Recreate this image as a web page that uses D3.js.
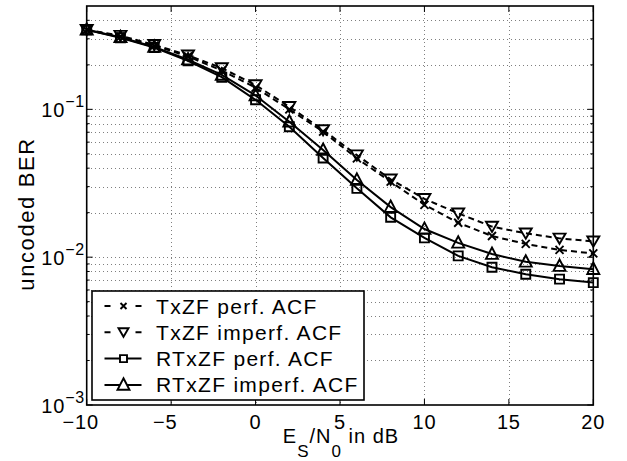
<!DOCTYPE html>
<html><head><meta charset="utf-8">
<style>
body {margin:0; background:#fff;}
text {font-family:'Liberation Sans',Arial,sans-serif; fill:#000;}
.grid line {stroke:#000; stroke-opacity:0.5; stroke-width:1; stroke-dasharray:1,3; shape-rendering:crispEdges;}
</style>
<script src='https://d3js.org/d3.v7.min.js'></script>
</head><body>
<svg id='svg001' width='627' height='461'></svg>
<script>
// data
var snr=[-10,-8,-6,-4,-2,0,2,4,6,8,10,12,14,16,18,20];
var txzfPerf=[0.345,0.31,0.27,0.228,0.183,0.14,0.1,0.0706,0.0466,0.0324,0.0226,0.0171,0.0139,0.0123,0.0112,0.0106];
var txzfImperf=[0.345,0.315,0.273,0.232,0.19,0.146,0.104,0.0725,0.049,0.0336,0.0248,0.0198,0.0161,0.0145,0.0134,0.0128];
var rtxzfPerf=[0.345,0.305,0.262,0.213,0.165,0.116,0.0763,0.0469,0.0292,0.0186,0.0135,0.0102,0.00855,0.00767,0.0071,0.00673];
var rtxzfImperf=[0.345,0.307,0.264,0.217,0.171,0.124,0.0825,0.053,0.0333,0.0218,0.0155,0.0125,0.0105,0.0093,0.0087,0.0083];
var xTicks=[-10,-5,0,5,10,15,20];
var yMajor=[1e-3,1e-2,1e-1];
var yExp=['\u22123','\u22122','\u22121'];
var legendNames=['TxZF perf. ACF','TxZF imperf. ACF','RTxZF perf. ACF','RTxZF imperf. ACF'];

var L=86.7,R=593.3,T=6,B=405;
var xScale=d3.scaleLinear().domain([-10,20]).range([L,R]);
var yScale=d3.scaleLog().domain([1e-3,0.5]).range([B,T]);
var svg=d3.select('#svg001');

// minor log ticks
var yMinor=[];
[1e-3,1e-2,1e-1].forEach(function(d){for(var k=2;k<=9;k++){if(k*d<0.5) yMinor.push(k*d);}});

// grid
var g=svg.append('g').attr('class','grid');
g.selectAll('.gx').data(xTicks.slice(1,-1)).enter().append('line')
 .attr('x1',d=>Math.round(xScale(d))+0.5).attr('x2',d=>Math.round(xScale(d))+0.5).attr('y1',T).attr('y2',B);
g.selectAll('.gy').data(yMinor.concat(yMajor.slice(1))).enter().append('line')
 .attr('y1',d=>Math.round(yScale(d))+0.5).attr('y2',d=>Math.round(yScale(d))+0.5).attr('x1',L).attr('x2',R);

// box and ticks
svg.append('rect').attr('x',L).attr('y',T).attr('width',R-L).attr('height',B-T)
   .attr('fill','none').attr('stroke','#000').attr('stroke-width',1.6);
var tk=svg.append('g').attr('stroke','#000').attr('stroke-width',1);
xTicks.forEach(function(d){
  tk.append('line').attr('x1',xScale(d)).attr('x2',xScale(d)).attr('y1',B).attr('y2',B-6);
  tk.append('line').attr('x1',xScale(d)).attr('x2',xScale(d)).attr('y1',T).attr('y2',T+6);
});
yMajor.forEach(function(d){
  tk.append('line').attr('y1',yScale(d)).attr('y2',yScale(d)).attr('x1',L).attr('x2',L+6);
  tk.append('line').attr('y1',yScale(d)).attr('y2',yScale(d)).attr('x1',R).attr('x2',R-6);
});
yMinor.forEach(function(d){
  tk.append('line').attr('y1',yScale(d)).attr('y2',yScale(d)).attr('x1',L).attr('x2',L+3);
  tk.append('line').attr('y1',yScale(d)).attr('y2',yScale(d)).attr('x1',R).attr('x2',R-3);
});

// tick labels
svg.append('g').selectAll('text').data(xTicks).enter().append('text')
   .attr('x',d=>xScale(d)).attr('dx',d=>d<0?-6:0).attr('y',429).attr('text-anchor','middle')
   .style('font-size','20px').style('letter-spacing','0.8px')
   .text(d=>d<0?'\u2212'+(-d):d);
yMajor.forEach(function(d,i){
  var t=svg.append('text').attr('x',85).attr('y',yScale(d)+7.7).attr('text-anchor','end')
     .style('font-size','20px').style('letter-spacing','0.8px');
  t.append('tspan').text('10');
  t.append('tspan').attr('dy',-10).style('font-size','16px').text(yExp[i]);
});

// axis labels
var xl=svg.append('text').attr('x',341).attr('y',443).attr('text-anchor','middle')
   .style('font-size','20px').style('letter-spacing','1px');
xl.append('tspan').text('E');
xl.append('tspan').attr('dy',13.5).style('font-size','17px').text('S');
xl.append('tspan').attr('dy',-13.5).text('/N');
xl.append('tspan').attr('dy',13.5).style('font-size','17px').text('0');
xl.append('tspan').attr('dy',-13.5).text(' in dB');
svg.append('text').attr('transform','translate(33.5,214) rotate(-90)').attr('text-anchor','middle')
   .style('font-size','22px').style('letter-spacing','1.6px').text('uncoded BER');

// markers
function marker(type,s){
  var h=s/2;
  if(type=='x') return 'M'+(-h)+','+(-h)+'L'+h+','+h+'M'+(-h)+','+h+'L'+h+','+(-h);
  if(type=='sq') return 'M'+(-h)+','+(-h)+'H'+h+'V'+h+'H'+(-h)+'Z';
  if(type=='up') return 'M0,'+(-h*1.1)+'L'+h+','+(h*0.8)+'L'+(-h)+','+(h*0.8)+'Z';
  return 'M0,'+(h*0.9)+'L'+h+','+(-h*0.8)+'L'+(-h)+','+(-h*0.8)+'Z';
}
var series=[
  {v:txzfPerf,dash:'6,4',m:'x',s:8,ls:6},
  {v:txzfImperf,dash:'6,4',m:'dn',s:12,ls:10},
  {v:rtxzfPerf,dash:null,m:'sq',s:9,ls:7},
  {v:rtxzfImperf,dash:null,m:'up',s:12,ls:12}
];
var line=d3.line().x((d,i)=>xScale(snr[i])).y(d=>yScale(d));
series.forEach(function(s){
  svg.append('path').datum(s.v).attr('d',line).attr('fill','none').attr('stroke','#000')
     .attr('stroke-width',2).attr('stroke-dasharray',s.dash);
  svg.append('g').selectAll('path').data(s.v).enter().append('path')
     .attr('transform',(d,i)=>'translate('+xScale(snr[i])+','+yScale(d)+')')
     .attr('d',marker(s.m,s.s)).attr('fill','none').attr('stroke','#000').attr('stroke-width',1.9);
});

// legend
var lg=svg.append('g');
lg.append('rect').attr('x',92).attr('y',291).attr('width',272).attr('height',109)
  .attr('fill','#fff').attr('stroke','#000').attr('stroke-width',1.6);
series.forEach(function(s,i){
  var y=306+i*26.3;
  lg.append('line').attr('x1',104.5).attr('x2',141.5).attr('y1',y).attr('y2',y)
    .attr('stroke','#000').attr('stroke-width',2).attr('stroke-dasharray',s.dash?'6,25':null);
  lg.append('path').attr('transform','translate(123.5,'+y+')').attr('d',marker(s.m,s.ls))
    .attr('fill',s.m=='x'?'none':'#fff').attr('stroke','#000').attr('stroke-width',1.9);
  lg.append('text').attr('x',156).attr('y',y+7.5).style('font-size','21px').style('letter-spacing','1.3px')
    .text(legendNames[i]);
});
</script>
</body></html>
